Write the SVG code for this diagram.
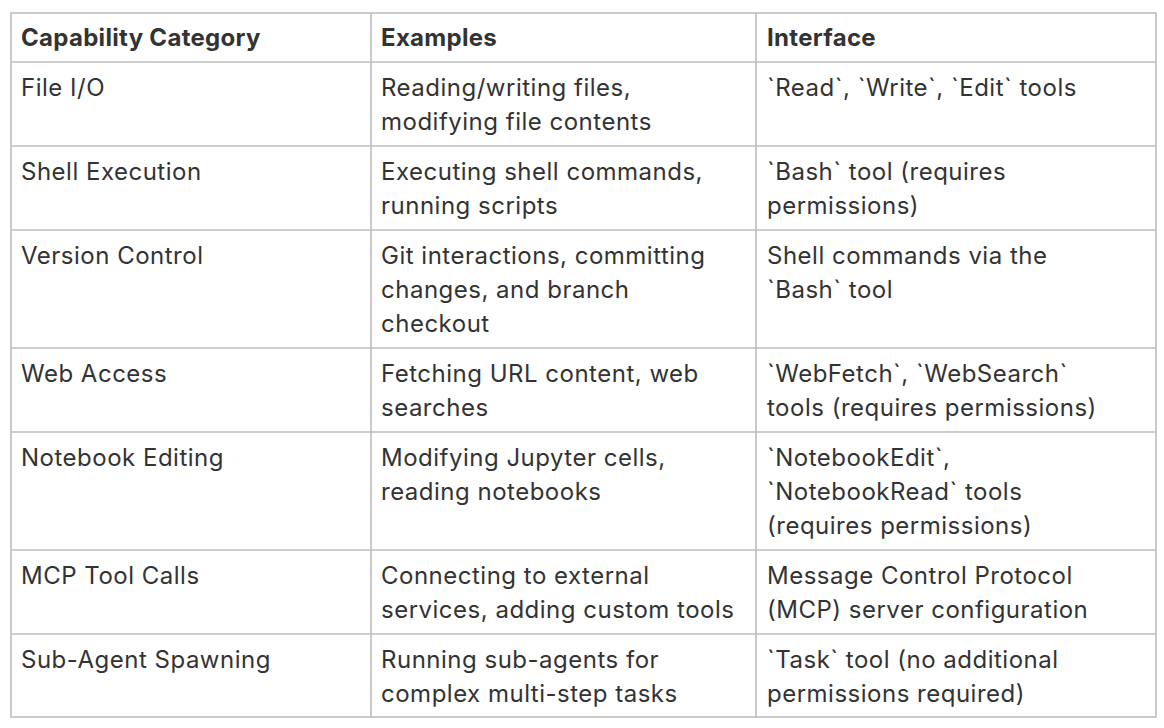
<svg xmlns="http://www.w3.org/2000/svg" width="1164" height="728" viewBox="0 0 1164 728">
<style>
text{font-family:Inter,"Noto Sans",sans-serif;font-size:24px;letter-spacing:0.5px;fill:#333}
.h{font-weight:700;letter-spacing:0.3px}
line{stroke:#bdbdbd;stroke-width:1.6}
</style>
<rect width="1164" height="728" fill="#fff"/>
<g id="grid">
<rect x="11" y="13" width="1145" height="704" fill="none" stroke="#bdbdbd" stroke-width="1.6"/>
<line x1="371" y1="13" x2="371" y2="717"/>
<line x1="756" y1="13" x2="756" y2="717"/>
<line x1="11" y1="62" x2="1156" y2="62"/>
<line x1="11" y1="146" x2="1156" y2="146"/>
<line x1="11" y1="230" x2="1156" y2="230"/>
<line x1="11" y1="348" x2="1156" y2="348"/>
<line x1="11" y1="432" x2="1156" y2="432"/>
<line x1="11" y1="550" x2="1156" y2="550"/>
<line x1="11" y1="634" x2="1156" y2="634"/>
</g>
<g id="header">
<text class="h" x="21" y="46">Capability Category</text>
<text class="h" x="381" y="46">Examples</text>
<text class="h" x="767" y="46">Interface</text>
</g>
<g id="r1"><text x="21" y="96">File I/O</text><text x="381" y="96">Reading/writing files,</text><text x="381" y="130">modifying file contents</text><text x="767" y="96">`Read`, `Write`, `Edit` tools</text></g>
<g id="r2"><text x="21" y="180">Shell Execution</text><text x="381" y="180">Executing shell commands,</text><text x="381" y="214">running scripts</text><text x="767" y="180">`Bash` tool (requires</text><text x="767" y="214">permissions)</text></g>
<g id="r3"><text x="21" y="264">Version Control</text><text x="381" y="264">Git interactions, committing</text><text x="381" y="298">changes, and branch</text><text x="381" y="332">checkout</text><text x="767" y="264">Shell commands via the</text><text x="767" y="298">`Bash` tool</text></g>
<g id="r4"><text x="21" y="382">Web Access</text><text x="381" y="382">Fetching URL content, web</text><text x="381" y="416">searches</text><text x="767" y="382">`WebFetch`, `WebSearch`</text><text x="767" y="416">tools (requires permissions)</text></g>
<g id="r5"><text x="21" y="466">Notebook Editing</text><text x="381" y="466">Modifying Jupyter cells,</text><text x="381" y="500">reading notebooks</text><text x="767" y="466">`NotebookEdit`,</text><text x="767" y="500">`NotebookRead` tools</text><text x="767" y="534">(requires permissions)</text></g>
<g id="r6"><text x="21" y="584">MCP Tool Calls</text><text x="381" y="584">Connecting to external</text><text x="381" y="618">services, adding custom tools</text><text x="767" y="584">Message Control Protocol</text><text x="767" y="618">(MCP) server configuration</text></g>
<g id="r7"><text x="21" y="668">Sub-Agent Spawning</text><text x="381" y="668">Running sub-agents for</text><text x="381" y="702">complex multi-step tasks</text><text x="767" y="668">`Task` tool (no additional</text><text x="767" y="702">permissions required)</text></g>
</svg>
